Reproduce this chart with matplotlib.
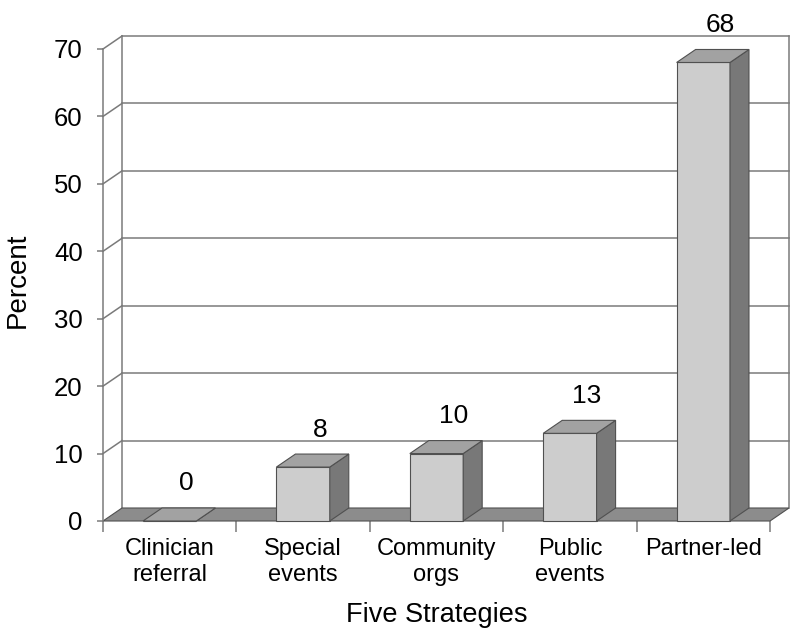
import matplotlib
matplotlib.use('Agg')
import matplotlib.pyplot as plt
from matplotlib.patches import Polygon
import numpy as np

categories = ["Clinician\nreferral", "Special\nevents", "Community\norgs", "Public\nevents", "Partner-led"]
values = [0, 8, 10, 13, 68]
value_labels = ["0", "8", "10", "13", "68"]
y_ticks = [0, 10, 20, 30, 40, 50, 60, 70]
x_title = "Five Strategies"
y_title = "Percent"

plt.rcParams['font.family'] = ['Liberation Sans', 'DejaVu Sans']

LINE = '#7a7a7a'
EDGE = '#505050'
FLOOR = '#8c8c8c'
FRONT = '#cdcdcd'
TOP = '#a2a2a2'
SIDE = '#787878'

fig = plt.figure(figsize=(8, 6.4), dpi=100)
ax = fig.add_axes([103 / 800, 119 / 640, 667 / 800, 472 / 640])
n = len(categories)
x0, x1 = -0.5, n - 0.5
ymax = y_ticks[-1]
ax.set_xlim(x0, x1)
ax.set_ylim(0, ymax)

# 3-D depth offset (pixels) converted to data units
dx = 19 / (ax.bbox.width / (x1 - x0))
dy = 13 / (ax.bbox.height / ymax)

# back wall and side wall lines
for v in y_ticks[1:]:
    ax.plot([x0 + dx, x1 + dx], [v + dy, v + dy], color=LINE, lw=1.1, clip_on=False, zorder=1)
    ax.plot([x0, x0 + dx], [v, v + dy], color=LINE, lw=1.1, clip_on=False, zorder=1)
ax.plot([x0 + dx, x0 + dx], [dy, ymax + dy], color=LINE, lw=1.1, clip_on=False, zorder=1)
ax.plot([x1 + dx, x1 + dx], [dy, ymax + dy], color=LINE, lw=1.1, clip_on=False, zorder=1)

# floor
ax.add_patch(Polygon([(x0, 0), (x1, 0), (x1 + dx, dy), (x0 + dx, dy)], closed=True,
                     fc=FLOOR, ec=EDGE, lw=0.8, clip_on=False, zorder=2))

# bars
w = 0.4
for i, v in enumerate(values):
    xl, xr = i - w / 2, i + w / 2
    ax.add_patch(Polygon([(xl, 0), (xr, 0), (xr, v), (xl, v)], closed=True,
                         fc=FRONT, ec=EDGE, lw=0.8, clip_on=False, zorder=3))
    ax.add_patch(Polygon([(xr, 0), (xr + dx, dy), (xr + dx, v + dy), (xr, v)], closed=True,
                         fc=SIDE, ec=EDGE, lw=0.8, clip_on=False, zorder=3))
    ax.add_patch(Polygon([(xl, v), (xr, v), (xr + dx, v + dy), (xl + dx, v + dy)], closed=True,
                         fc=TOP, ec=EDGE, lw=0.8, clip_on=False, zorder=3))
    ax.annotate(value_labels[i], (i, v), xytext=(12, 22), textcoords='offset points',
                ha='center', va='baseline', fontsize=19, color='black', zorder=5,
                annotation_clip=False)

# axes styling
for s in ['top', 'right', 'bottom']:
    ax.spines[s].set_visible(False)
ax.spines['left'].set_color(LINE)
ax.spines['left'].set_linewidth(1.1)
ax.set_facecolor('none')

ax.set_yticks(y_ticks)
ax.set_yticklabels([str(t) for t in y_ticks])
ax.tick_params(axis='y', length=4.5, width=1.1, color=LINE, pad=10, labelsize=18.5)

ax.set_xticks(np.arange(x0, x1 + 0.01, 1.0))
ax.set_xticklabels([])
ax.tick_params(axis='x', which='major', length=8, width=1.1, color=LINE)
ax.set_xticks(np.arange(n), minor=True)
ax.set_xticklabels(categories, minor=True, fontsize=17, linespacing=1.25)
ax.tick_params(axis='x', which='minor', length=0, pad=12)

ax.set_xlabel(x_title, fontsize=19.5)
ax.xaxis.set_label_coords(0.5, -0.172)
ax.set_ylabel(y_title, fontsize=20)
ax.yaxis.label.set_va('center')
ax.yaxis.set_label_coords(-0.128, 0.51)

fig.savefig('out.png', dpi=100)
